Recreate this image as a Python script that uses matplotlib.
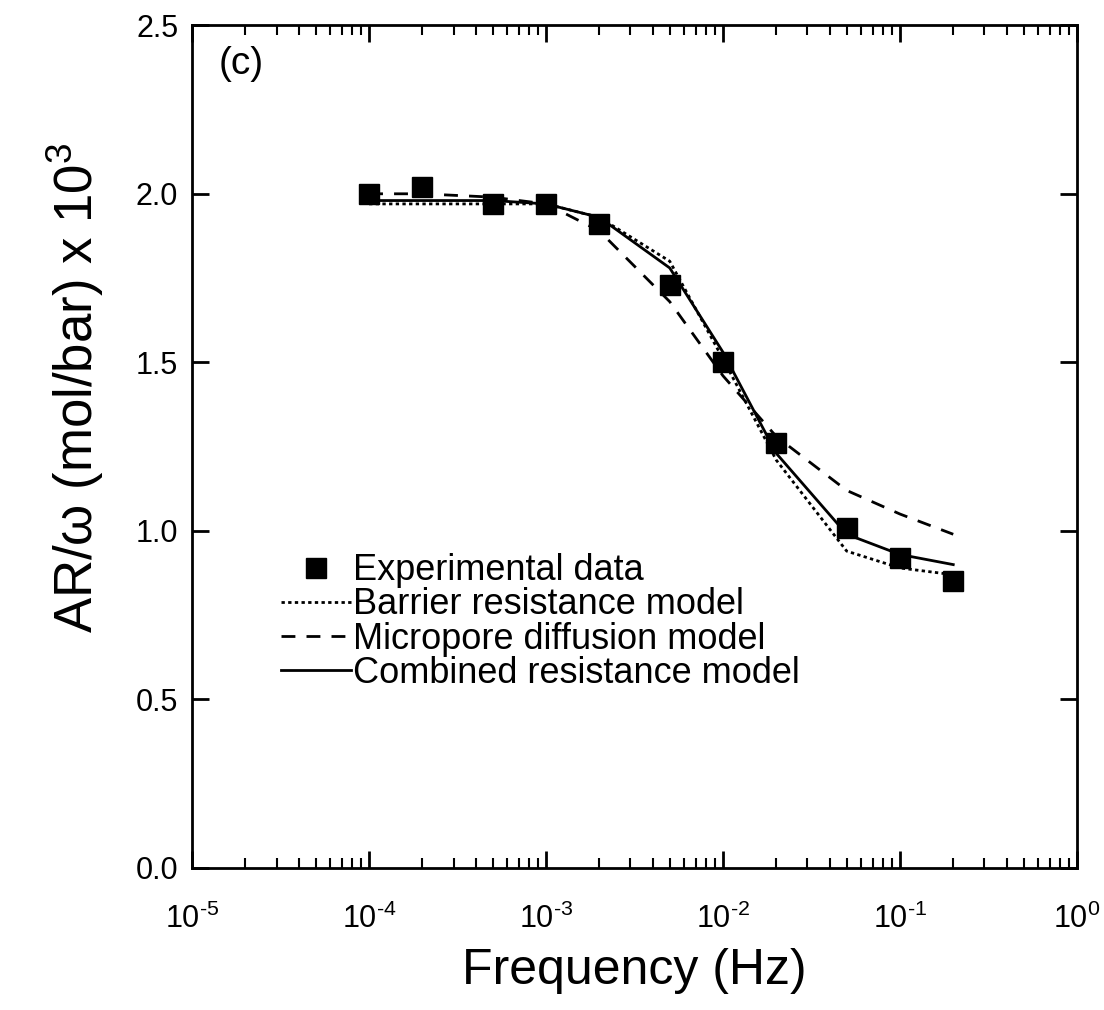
import numpy as np
import matplotlib.pyplot as plt
from matplotlib.ticker import LogLocator, FuncFormatter

plt.rcParams['font.family'] = ['Liberation Sans', 'DejaVu Sans']
plt.rcParams['mathtext.fontset'] = 'custom'
plt.rcParams['mathtext.rm'] = 'Liberation Sans'
plt.rcParams['mathtext.it'] = 'Liberation Sans'

# Data
freq = [1e-4, 2e-4, 5e-4, 1e-3, 2e-3, 5e-3, 1e-2, 2e-2, 5e-2, 1e-1, 2e-1]
exp_data = [2.00, 2.02, 1.97, 1.97, 1.91, 1.73, 1.50, 1.26, 1.01, 0.92, 0.85]
barrier = [1.97, 1.97, 1.97, 1.97, 1.93, 1.80, 1.51, 1.21, 0.94, 0.89, 0.87]
micropore = [2.00, 2.00, 1.99, 1.97, 1.89, 1.68, 1.46, 1.28, 1.12, 1.05, 0.99]
combined = [1.98, 1.98, 1.98, 1.97, 1.93, 1.78, 1.53, 1.23, 0.99, 0.93, 0.90]

fig = plt.figure(figsize=(11.04, 10.10), dpi=100)
ax = fig.add_axes([0.174, 0.1406, 0.8015, 0.8344])

ax.plot(freq, exp_data, 's', color='black', markersize=15, label='Experimental data', zorder=3)
ax.plot(freq, barrier, color='black', lw=2, linestyle=(0, (1.2, 1.2)), label='Barrier resistance model')
ax.plot(freq, micropore, color='black', lw=2, linestyle=(0, (5, 4)), label='Micropore diffusion model')
ax.plot(freq, combined, color='black', lw=2, linestyle='-', label='Combined resistance model')

ax.set_xscale('log')
ax.set_xlim(1e-5, 1)
ax.set_ylim(0, 2.5)
ax.set_yticks([0, 0.5, 1.0, 1.5, 2.0, 2.5])
ax.yaxis.set_major_formatter(FuncFormatter(lambda v, p: f'{v:.1f}'))
ax.xaxis.set_major_locator(LogLocator(base=10, numticks=10))
ax.xaxis.set_minor_locator(LogLocator(base=10, subs=np.arange(2, 10), numticks=20))
ax.xaxis.set_major_formatter(
    FuncFormatter(lambda v, p: r'$\mathregular{10^{\text{-}%d}}$' % abs(round(np.log10(v)))
                  if v < 1 else r'$\mathregular{10^{0}}$'))

for s in ax.spines.values():
    s.set_linewidth(2)
ax.tick_params(which='major', direction='in', length=12, width=2, top=True, right=True,
               labelsize=22)
ax.tick_params(which='minor', direction='in', length=7, width=1.5, top=True, right=True)
ax.tick_params(axis='x', which='major', pad=26)
ax.tick_params(axis='y', which='major', pad=10)

ax.set_xlabel('Frequency (Hz)', fontsize=36, labelpad=9)
ax.set_ylabel('AR/ω (mol/bar) x 10$^\\mathregular{3}$', fontsize=38)
ax.yaxis.set_label_coords(-0.097, 0.57)

ax.text(0.03, 0.975, '(c)', transform=ax.transAxes, fontsize=28, va='top', ha='left')

ax.legend(loc='upper left', bbox_to_anchor=(0.08, 0.395), frameon=False, fontsize=26,
          handlelength=1.95, handletextpad=0.05, labelspacing=-0.02, borderpad=0)

fig.savefig('out.png', dpi=100)
